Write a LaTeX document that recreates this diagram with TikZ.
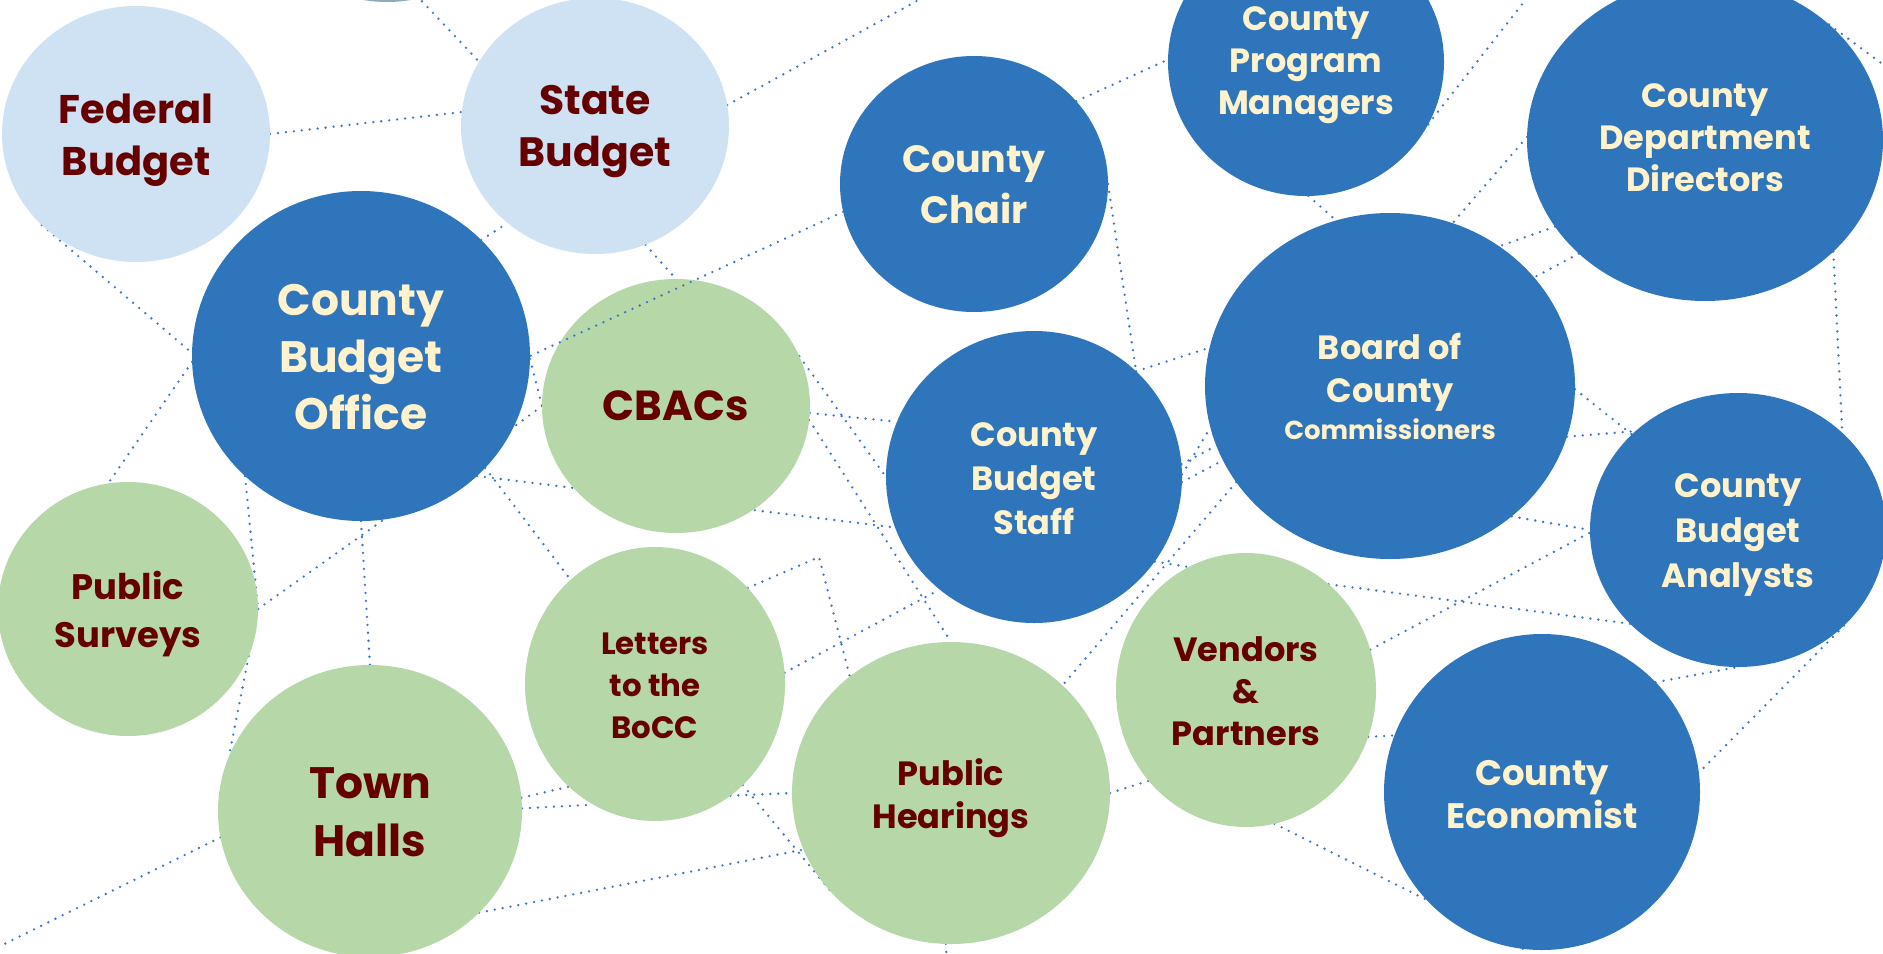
\documentclass[tikz,border=0pt]{standalone}
\usepackage{fontspec}
\setmainfont{Poppins}
\usetikzlibrary{shapes.geometric,backgrounds}
\definecolor{nblue}{HTML}{2E75BB}
\definecolor{nlight}{HTML}{CFE2F3}
\definecolor{ngreen}{HTML}{B6D7A8}
\definecolor{ncream}{HTML}{FFF2CC}
\definecolor{ndred}{HTML}{660000}
\definecolor{nlink}{HTML}{3A78C4}
\definecolor{ntop}{HTML}{8EA9B8}
\newcommand{\fsz}[2]{\fontsize{#1}{#2}\selectfont\bfseries}
\tikzset{
  bub/.style 2 args={ellipse, inner sep=0pt, outer sep=0pt, minimum width=#1*0.5pt, minimum height=#2*0.5pt},
  bluebub/.style={fill=nblue},
  lightbub/.style={fill=nlight},
  greenbub/.style={fill=ngreen},
  ontext/.style={text=ncream, align=center, inner sep=0pt},
  dtext/.style={text=ndred, align=center, inner sep=0pt},
  link/.style={draw=nlink, line width=1.3pt, line cap=round, dash pattern=on 0pt off 4pt},
}
\begin{document}
\begin{tikzpicture}[x=0.5pt,y=-0.5pt]
\useasboundingbox (0,0) rectangle (1883,953);
% nodes
\node[bub={268}{256}, fill=ntop] (hid) at (387,-126) {};
\node[bub={268}{256}, lightbub] (fb) at (136,134) {};
\node[bub={268}{256}, lightbub] (sb) at (595,126) {};
\node[bub={338}{330}, bluebub] (cbo) at (361,356) {};
\node[bub={268}{254}, greenbub] (cbac) at (676,406) {};
\node[bub={268}{256}, bluebub] (cc) at (974,184) {};
\node[bub={276}{268}, bluebub] (cpm) at (1306,62) {};
\node[bub={356}{322}, bluebub] (cdd) at (1705,140) {};
\node[bub={370}{346}, bluebub] (bocc) at (1390,386) {};
\node[bub={296}{292}, bluebub] (cbs) at (1034,477) {};
\node[bub={296}{274}, bluebub] (cba) at (1738,530) {};
\node[bub={260}{254}, greenbub] (ps) at (128,609) {};
\node[bub={304}{292}, greenbub] (th) at (370,811) {};
\node[bub={260}{274}, greenbub] (lb) at (655,684) {};
\node[bub={318}{302}, greenbub] (ph) at (951,793) {};
\node[bub={260}{274}, greenbub] (vp) at (1246,690) {};
\node[bub={316}{316}, bluebub] (ce) at (1542,792) {};
% texts
\node[dtext, font=\fsz{20}{26}, yshift=-3pt] (fb-t) at (fb) {Federal\\Budget};
\node[dtext, font=\fsz{20.5}{26}, yshift=-3pt] (sb-t) at (sb) {State\\Budget};
\node[ontext, font=\fsz{22}{28.5}, yshift=-0.5pt] (cbo-t) at (cbo) {County\\Budget\\Office};
\node[dtext, font=\fsz{21}{27}] (cbac-t) at (cbac) {CBACs};
\node[ontext, font=\fsz{19}{25.5}, yshift=-0.5pt] (cc-t) at (cc) {County\\Chair};
\node[ontext, font=\fsz{16.8}{21}, yshift=-1.5pt] (cpm-t) at (cpm) {County\\Program\\Managers};
\node[ontext, font=\fsz{16.8}{21}, yshift=1.2pt] (cdd-t) at (cdd) {County\\Department\\Directors};
\node[ontext, font=\fsz{16.8}{21.5}] (bocc-t) at (bocc) {Board of\\County\\[-3pt]{\fsz{13}{18.5}Commissioners}};
\node[ontext, font=\fsz{16.8}{22}, yshift=-1pt] (cbs-t) at (cbs) {County\\Budget\\Staff};
\node[ontext, font=\fsz{16.8}{22.5}, yshift=-2.5pt] (cba-t) at (cba) {County\\Budget\\Analysts};
\node[dtext, font=\fsz{17.7}{24}, yshift=-2.5pt] (ps-t) at (ps) {Public\\Surveys};
\node[dtext, font=\fsz{22}{29}, yshift=-0.5pt] (th-t) at (th) {Town\\Halls};
\node[dtext, font=\fsz{15.4}{21}, yshift=-1pt] (lb-t) at (lb) {Letters\\to the\\BoCC};
\node[dtext, font=\fsz{16.8}{21.5}, yshift=-2.5pt] (ph-t) at (ph) {Public\\Hearings};
\node[dtext, font=\fsz{16.8}{21}, yshift=-0.5pt] (vp-t) at (vp) {Vendors\\\&\\Partners};
\node[ontext, font=\fsz{17.7}{21.5}, yshift=-1.5pt] (ce-t) at (ce) {County\\Economist};
% free ends
\coordinate (t1) at (400,-22);
\coordinate (t2) at (-20,956);
\coordinate (t3) at (948,975);
\coordinate (t4) at (1520,975);
\coordinate (t5) at (1541,-20);
\coordinate (t6) at (1900,77);
\coordinate (t7) at (955,-20);
\coordinate (k1) at (819,557);
\begin{scope}[on background layer]
\fill[white] (0,0) rectangle (1883,953);
\draw[link] (t1) -- (sb.151);
\draw[link] (sb.9) -- (t7);
\draw[link] (fb.0) -- (sb.174);
\draw[link] (fb.224) -- (cbo.179);
\draw[link] (cbo.182) -- (ps.99);
\draw[link] (cbo.226) -- (ps.0);
\draw[link] (ps.0) -- (th.159);
\draw[link] (ps.0) -- (cbo.278);
\draw[link] (cbo.270) -- (th.90);
\draw[link] (th.190) -- (t2);
\draw[link] (cbo.44) -- (sb.228);
\draw[link] (sb.293) -- (cbac.90);
\draw[link] (cbo.359) -- (cbac.180);
\draw[link] (cbac.180) -- (cbo.335);
\draw[link] (cbo.314) -- (cbs.200);
\draw[link] (cbo.318) -- (lb.129);
\draw[link] (cbac.22) -- (cbs.180);
\draw[link] (cbac.357) -- (cbs.158);
\draw[link] (cbac.354) -- (ph.90);
\draw[link] (lb.46) -- (k1) -- (ph.131);
\draw[link] (lb.5) -- (cbs.230);
\draw[link] (th.5) -- (lb.230);
\draw[link] (th.1) -- (lb.243);
\draw[link] (lb.304) -- (ph.180);
\draw[link] (lb.311) -- (ph.221);
\draw[link] (th.317) -- (ph.201);
\draw[link] (ph.268) -- (t3);
\draw[link] (bocc.212) -- (ph.44);
\draw[link] (cbs.325) -- (vp.115);
\draw[link] (vp.52) -- (cba.221);
\draw[link] (vp.18) -- (cba.181);
\draw[link] (vp.339) -- (ce.159);
\draw[link] (ph.0) -- (vp.223);
\draw[link] (vp.282) -- (ce.223);
\draw[link] (cba.318) -- (ce.7);
\draw[link] (ce.44) -- (cba.270);
\draw[link] (ce.263) -- (t4);
\draw[link] (bocc.313) -- (cba.180);
\draw[link] (cpm.333) -- (t5);
\draw[link] (cdd.179) -- (bocc.69);
\draw[link] (cdd.210) -- (bocc.52);
\draw[link] (cdd.222) -- (bocc.37);
\draw[link] (cdd.43) -- (t6);
\draw[link] (cdd.319) -- (cba.43);
\draw[link] (bocc.359) -- (cba.138);
\draw[link] (bocc.344) -- (cba.136);
\draw[link] (cc.39) -- (cpm.179);
\draw[link] (cc.0) -- (cbs.46);
\draw[link] (cbs.46) -- (bocc.168);
\draw[link] (cpm.271) -- (bocc.108);
\draw[link] (cbs.5) -- (bocc.199);
\draw[link] (cbs.1) -- (bocc.193);
\draw[link] (cbs.358) -- (bocc.204);
\end{scope}
\draw[link] (cc.192) -- (cbo.0);
\end{tikzpicture}
\end{document}
